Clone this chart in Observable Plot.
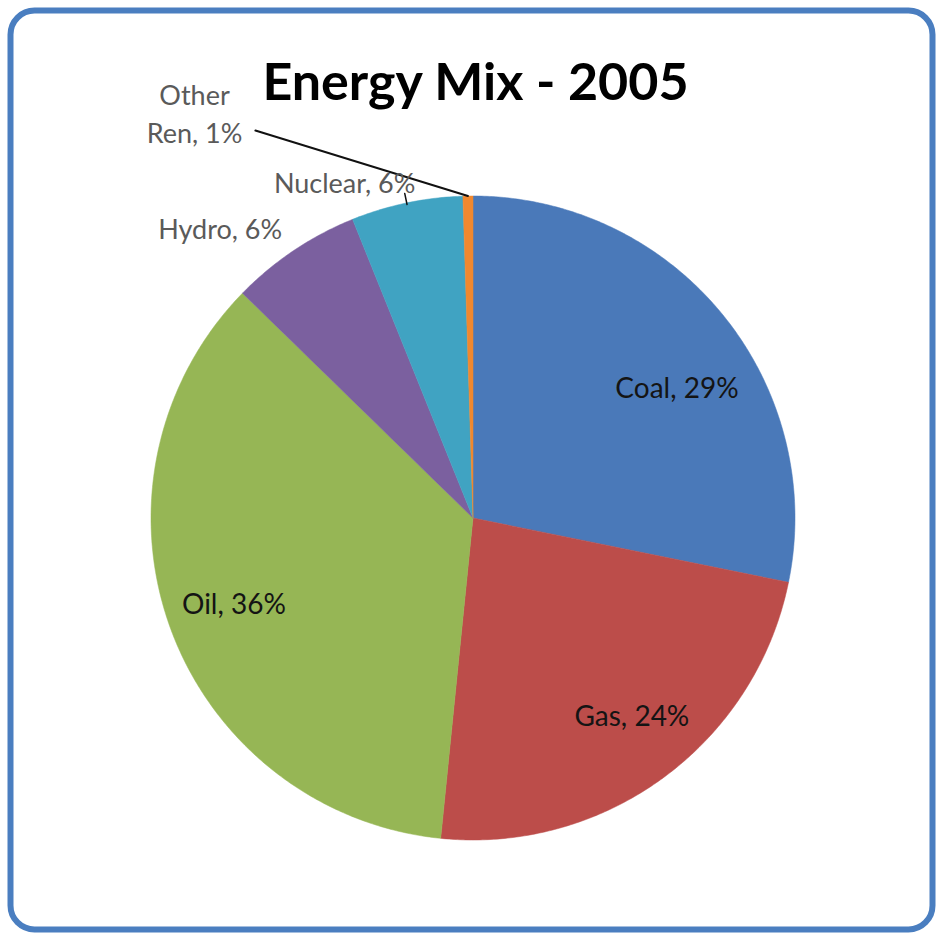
<!DOCTYPE html>
<html>
<head>
<meta charset="utf-8">
<script src="https://cdn.jsdelivr.net/npm/d3@7"></script>
<script src="https://cdn.jsdelivr.net/npm/@observablehq/plot@0.6"></script>
<style>
  html, body { margin: 0; padding: 0; background: #fff; }
  #chart svg { display: block; }
</style>
</head>
<body>
<div id="chart"></div>
<script>
// ---- data ----
const title = "Energy Mix - 2005";
const sources = ["Coal", "Gas", "Oil", "Hydro", "Nuclear", "Other Ren"];
const shares = [28.2, 23.4, 35.7, 6.6, 5.6, 0.5];         // slice sizes (%)
const pctLabels = ["29%", "24%", "36%", "6%", "6%", "1%"]; // printed labels
const colors = ["#4a79b9", "#bc4d4a", "#96b655", "#7b609f", "#40a3c2", "#f0882f"];

// ---- build slice polygons (clockwise from 12 o'clock) ----
const total = d3.sum(shares);
let acc = 0;
const slices = sources.map((name, i) => {
  const a0 = acc / total * 2 * Math.PI;
  acc += shares[i];
  const a1 = acc / total * 2 * Math.PI;
  return {name, a0, a1, mid: (a0 + a1) / 2, color: colors[i], label: `${name}, ${pctLabels[i]}`};
});
const pts = [];
for (const s of slices) {
  pts.push({name: s.name, color: s.color, x: 0, y: 0});
  const n = Math.max(4, Math.ceil((s.a1 - s.a0) / (Math.PI / 360)));
  for (let k = 0; k <= n; k++) {
    const a = s.a0 + (s.a1 - s.a0) * k / n;
    pts.push({name: s.name, color: s.color, x: Math.sin(a), y: Math.cos(a)});
  }
  pts.push({name: s.name, color: s.color, x: 0, y: 0});
}
const polar = (a, r) => ({x: r * Math.sin(a), y: r * Math.cos(a)});

// label layout (angle offset in radians, radius as fraction of pie radius)
const layout = {
  "Coal":      {da: 0.12, r: 0.75, inside: true},
  "Gas":       {da: -0.04, r: 0.79, inside: true},
  "Oil":       {da: 0.0, r: 0.79, inside: true},
  "Hydro":     {da: -0.13, r: 1.19, inside: false},
  "Nuclear":   {da: -0.16, r: 1.11, inside: false}
};
const inside = slices.filter(s => layout[s.name] && layout[s.name].inside)
  .map(s => ({...polar(s.mid + layout[s.name].da, layout[s.name].r), text: s.label}));
const outside = slices.filter(s => layout[s.name] && !layout[s.name].inside)
  .map(s => ({...polar(s.mid + layout[s.name].da, layout[s.name].r), text: s.label}));

const other = slices[5];
const otherLabel = {...polar(other.mid - 0.585, 1.53), text: "Other\n" + other.label.replace("Other ", "")};
const otherLeader = [polar(other.mid, 1.0), polar(other.mid - 0.496, 1.38)];
const nuc = slices[4];
const nucLeader = [polar(nuc.mid, 0.995), polar(nuc.mid, 1.03)];

const font = "Lato, 'Open Sans', sans-serif";
const cx = 472.5, cy = 517.5, R = 322;

const chart = Plot.plot({
  width: 941,
  height: 937,
  marginLeft: 10, marginTop: 10, marginRight: 9, marginBottom: 8,
  x: {domain: [-1, 1], range: [cx - R, cx + R], axis: null},
  y: {domain: [-1, 1], range: [cy + R, cy - R], axis: null},
  color: {type: "identity"},
  style: {fontFamily: font, background: "#fff"},
  marks: [
    Plot.frame({stroke: "#4a7ec0", strokeWidth: 6, rx: 24}),
    Plot.line(pts, {x: "x", y: "y", z: "name", fill: "color", stroke: "color", strokeWidth: 0.5, curve: "linear"}),
    Plot.line(otherLeader, {x: "x", y: "y", stroke: "#111", strokeWidth: 2}),
    Plot.line(nucLeader, {x: "x", y: "y", stroke: "#111", strokeWidth: 1.5}),
    Plot.text(inside, {x: "x", y: "y", text: "text", fontSize: 28, fill: "#141414", fontFamily: font}),
    Plot.text(outside, {x: "x", y: "y", text: "text", fontSize: 27, fill: "#5a5a5a", fontFamily: font}),
    Plot.text([otherLabel], {x: "x", y: "y", text: "text", fontSize: 27, fill: "#5a5a5a", lineHeight: 1.42, fontFamily: font}),
    Plot.text([title], {frameAnchor: "top", lineAnchor: "top", dx: 4, dy: 53, fontSize: 52, fontWeight: "bold", fill: "#000", fontFamily: font})
  ]
});
document.getElementById("chart").appendChild(chart);
</script>
</body>
</html>
